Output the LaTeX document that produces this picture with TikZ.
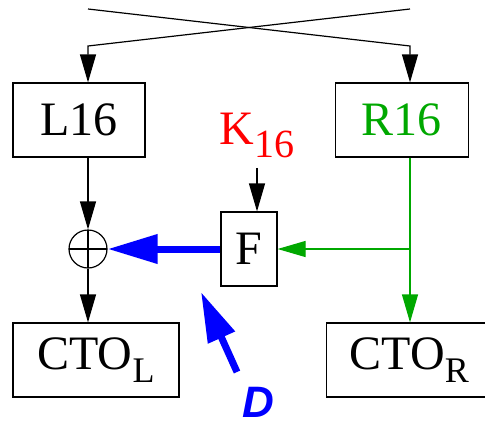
\documentclass[tikz,border=0pt]{standalone}
\usepackage{fontspec}
\setmainfont{Liberation Serif}
\newfontfamily\labelsans{Liberation Sans}
\usetikzlibrary{arrows.meta, positioning, calc}
\definecolor{keyred}{RGB}{255,0,0}
\definecolor{rgreen}{RGB}{0,168,0}
\definecolor{dblue}{RGB}{0,0,255}
\newcommand{\lowsub}[2][18]{\raisebox{-6.5pt}{\fontsize{#1}{#1}\selectfont #2}}

\begin{document}
\begin{tikzpicture}[
  x=0.5pt, y=-0.5pt,
  box/.style={draw, line width=0.6pt, inner sep=0pt, minimum height=37pt, font=\fontsize{24}{28}\selectfont},
  arr/.style={-{Triangle[length=14pt, width=8pt]}, line width=0.6pt},
  garr/.style={arr, rgreen},
  barr/.style={-{Triangle[length=25pt, width=14pt]}, line width=3.5pt, dblue}
]
  \useasboundingbox (0,0) rectangle (485,423);

  \node[box, minimum width=66pt] (l16) at (79,120) {L16};
  \node[box, minimum width=66.5pt, text=rgreen, right=94.5pt of l16] (r16) {R16};
  \node[text=keyred, font=\fontsize{24}{28}\selectfont, inner sep=5pt] (k16) at (257,135) {K\lowsub[20]{16}};
  \node[box, minimum width=28pt] (f) at (249,249) {F};
  \node[draw, circle, line width=0.6pt, minimum size=19pt, inner sep=0pt,
        path picture={\draw[line width=0.6pt] (path picture bounding box.north) -- (path picture bounding box.south)
                      (path picture bounding box.west) -- (path picture bounding box.east);}] (xor) at (88,249) {};
  \node[box, minimum width=83pt] (ctol) at (96,360) {CTO\lowsub{L}};
  \node[box, minimum width=83pt, right=73pt of ctol] (ctor) {CTO\lowsub{R}};
  \node[text=dblue, inner sep=1pt, font=\labelsans\bfseries\itshape\fontsize{22}{26}\selectfont] (dlab) at (258,402) {D};

  % swap of the halves
  \coordinate (tl) at (88,9);
  \coordinate (tr) at (410,9);
  \coordinate (kl) at (88,46);
  \coordinate (kr) at (410,46);
  \draw[arr] (tl) -- (kr) -- (kr |- r16.north);
  \draw[arr] (tr) -- (kl) -- (kl |- l16.north);

  \draw[arr] (kl |- l16.south) -- (xor.north);
  \draw[arr] (xor.south) -- (xor |- ctol.north);
  \draw[arr] (k16.south) -- (k16.south |- f.north);

  \coordinate (rb) at (kr |- f);
  \draw[garr] (kr |- r16.south) -- (kr |- ctor.north);
  \draw[garr] (rb) -- (f.east);

  \draw[barr] (f.west) -- (xor.east);
  \coordinate (dtail) at (237,372);
  \coordinate (dtip) at (201,292);
  \draw[barr] (dtail) -- (dtip);
\end{tikzpicture}
\end{document}
